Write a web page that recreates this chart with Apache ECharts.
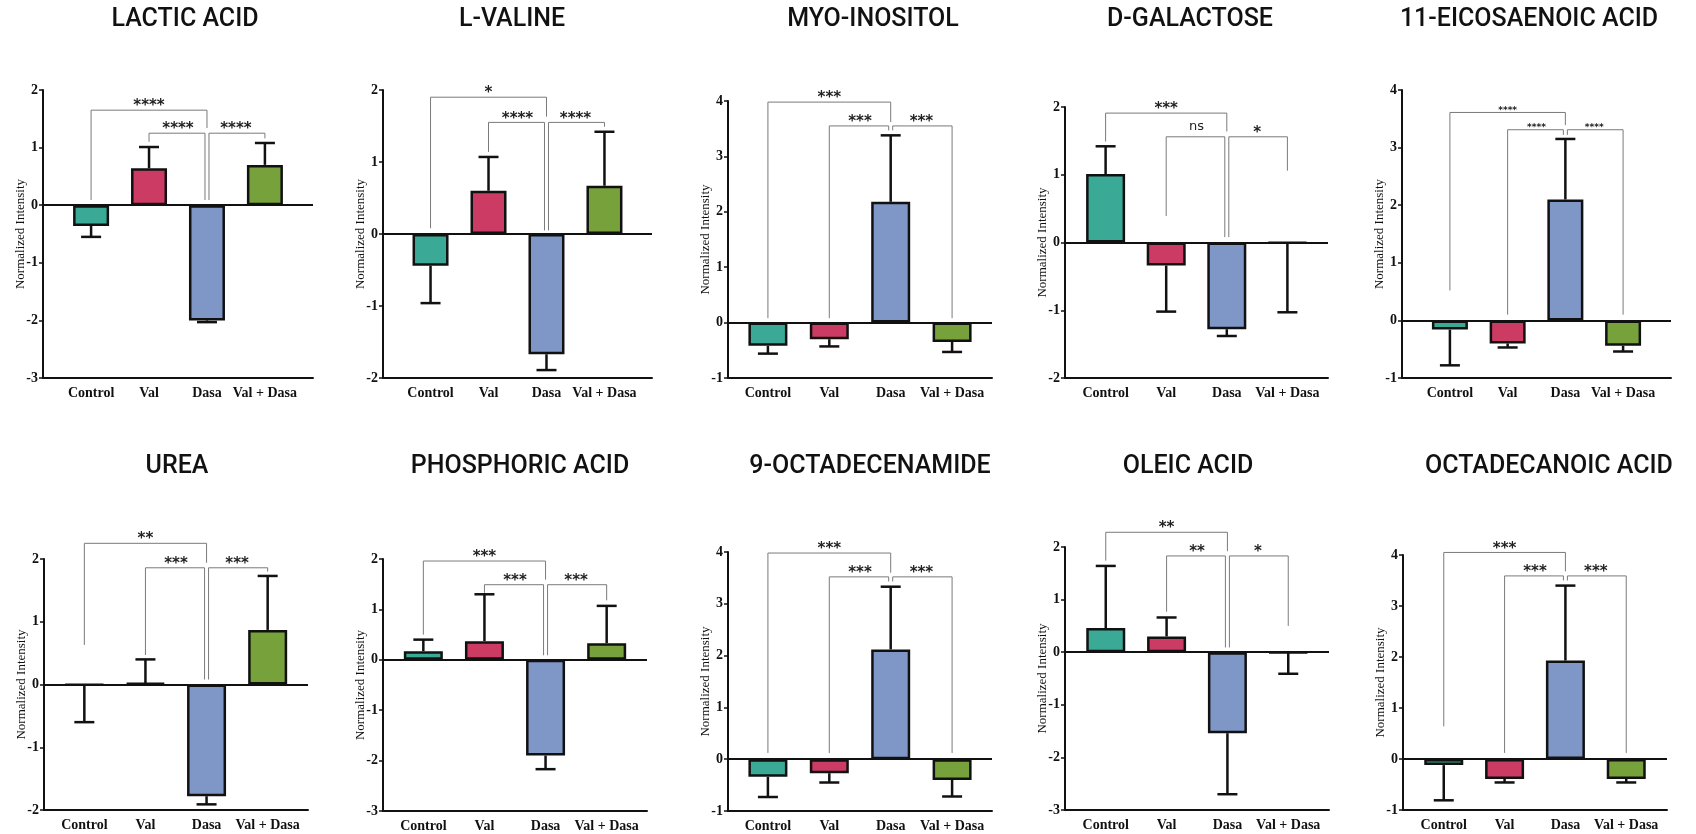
<!DOCTYPE html>
<html>
<head>
<meta charset="utf-8">
<script src="https://cdn.jsdelivr.net/npm/echarts@6/dist/echarts.min.js"></script>
<style>
  html, body { margin: 0; padding: 0; background: #fff; }
  #chart { width: 1696px; height: 834px; }
</style>
</head>
<body>
<div id="chart"></div>
<script>
const groups = ['Control', 'Val', 'Dasa', 'Val + Dasa'];
const groupColors = ['#3aa996', '#cb3b63', '#7f97c7', '#76a13b'];

// mean / error (SD) per group, and significance brackets:
// [from, to, bracket level, left leg end, right leg end, label]
const lacticAcid = [-0.36, 0.64, -2.00, 0.70];
const lacticAcidErr = [0.19, 0.37, 0.03, 0.38];
const lacticAcidSig = [[0, 2, 1.65, 0.09, 1.34, '****'], [1, 2, 1.25, 1.10, 0.09, '****'], [2, 3, 1.25, 0.09, 1.16, '****']];

const lValine = [-0.44, 0.60, -1.67, 0.67];
const lValineErr = [0.52, 0.47, 0.22, 0.75];
const lValineSig = [[0, 2, 1.90, 0.08, 1.63, '*'], [1, 2, 1.55, 1.14, 0.05, '****'], [2, 3, 1.55, 0.05, 1.49, '****']];

const myoInositol = [-0.42, -0.30, 2.18, -0.35];
const myoInositolErr = [0.14, 0.13, 1.20, 0.18];
const myoInositolSig = [[0, 2, 3.98, 0.08, 3.62, '***'], [1, 2, 3.55, 0.08, 3.47, '***'], [2, 3, 3.55, 3.47, 0.08, '***']];

const dGalactose = [1.01, -0.34, -1.28, -0.01];
const dGalactoseErr = [0.41, 0.68, 0.10, 1.02];
const dGalactoseSig = [[0, 2, 1.91, 1.49, 1.64, '***'], [1, 2, 1.56, 0.39, 0.08, 'ns'], [2, 3, 1.56, 0.08, 1.06, '*']];

const eicosaenoic = [-0.16, -0.40, 2.10, -0.44];
const eicosaenoicErr = [0.62, 0.07, 1.05, 0.10];
const eicosaenoicSig = [[0, 2, 3.61, 0.52, 3.39, '****'], [1, 2, 3.31, 0.10, 3.22, '****'], [2, 3, 3.31, 3.22, 0.10, '****']];

const urea = [-0.01, 0.02, -1.78, 0.87];
const ureaErr = [0.59, 0.38, 0.13, 0.86];
const ureaSig = [[0, 2, 2.25, 0.63, 1.94, '**'], [1, 2, 1.86, 0.47, 0.08, '***'], [2, 3, 1.86, 0.08, 1.80, '***']];

const phosphoric = [0.17, 0.37, -1.90, 0.33];
const phosphoricErr = [0.23, 0.93, 0.27, 0.74];
const phosphoricSig = [[0, 2, 1.96, 0.50, 1.59, '***'], [1, 2, 1.49, 1.33, 0.09, '***'], [2, 3, 1.49, 0.09, 1.18, '***']];

const octadecenamide = [-0.34, -0.27, 2.12, -0.40];
const octadecenamideErr = [0.39, 0.18, 1.21, 0.32];
const octadecenamideSig = [[0, 2, 3.98, 0.12, 3.60, '***'], [1, 2, 3.52, 0.12, 3.43, '***'], [2, 3, 3.52, 3.43, 0.12, '***']];

const oleic = [0.46, 0.30, -1.54, -0.01];
const oleicErr = [1.18, 0.36, 1.16, 0.40];
const oleicSig = [[0, 2, 2.28, 1.74, 1.92, '**'], [1, 2, 1.83, 0.77, 0.09, '**'], [2, 3, 1.83, 0.09, 0.50, '*']];

const octadecanoic = [-0.12, -0.39, 1.93, -0.39];
const octadecanoicErr = [0.69, 0.07, 1.47, 0.07];
const octadecanoicSig = [[0, 2, 4.05, 0.64, 3.68, '***'], [1, 2, 3.59, 0.12, 3.50, '***'], [2, 3, 3.59, 3.50, 0.12, '***']];

const panels = [
  { title: 'LACTIC ACID', mean: lacticAcid, err: lacticAcidErr, sig: lacticAcidSig, yMin: -3, yMax: 2, left: 43, top: 90, width: 270, height: 288, pad: 0.83, barW: 36, tx: 185, ty: 20, star: 15 },
  { title: 'L-VALINE', mean: lValine, err: lValineErr, sig: lValineSig, yMin: -2, yMax: 2, left: 383, top: 90, width: 269, height: 288, pad: 0.82, barW: 36, tx: 512, ty: 20, star: 15 },
  { title: 'MYO-INOSITOL', mean: myoInositol, err: myoInositolErr, sig: myoInositolSig, yMin: -1, yMax: 4, left: 728, top: 101, width: 264, height: 277, pad: 0.65, barW: 39, tx: 873, ty: 20, star: 15 },
  { title: 'D-GALACTOSE', mean: dGalactose, err: dGalactoseErr, sig: dGalactoseSig, yMin: -2, yMax: 2, left: 1065, top: 107, width: 263, height: 271, pad: 0.67, barW: 39, tx: 1190, ty: 20, star: 15 },
  { title: '11-EICOSAENOIC ACID', mean: eicosaenoic, err: eicosaenoicErr, sig: eicosaenoicSig, yMin: -1, yMax: 4, left: 1402, top: 90, width: 269, height: 288, pad: 0.83, barW: 36, tx: 1529, ty: 20, star: 9 },
  { title: 'UREA', mean: urea, err: ureaErr, sig: ureaSig, yMin: -2, yMax: 2, left: 44, top: 559, width: 264, height: 251, pad: 0.66, barW: 39, tx: 177, ty: 467, star: 15 },
  { title: 'PHOSPHORIC ACID', mean: phosphoric, err: phosphoricErr, sig: phosphoricSig, yMin: -3, yMax: 2, left: 383, top: 559, width: 264, height: 252, pad: 0.66, barW: 39, tx: 520, ty: 467, star: 15 },
  { title: '9-OCTADECENAMIDE', mean: octadecenamide, err: octadecenamideErr, sig: octadecenamideSig, yMin: -1, yMax: 4, left: 728, top: 552, width: 264, height: 259, pad: 0.65, barW: 39, tx: 870, ty: 467, star: 15 },
  { title: 'OLEIC ACID', mean: oleic, err: oleicErr, sig: oleicSig, yMin: -3, yMax: 2, left: 1065, top: 547, width: 264, height: 263, pad: 0.67, barW: 39, tx: 1188, ty: 467, star: 15 },
  { title: 'OCTADECANOIC ACID', mean: octadecanoic, err: octadecanoicErr, sig: octadecanoicSig, yMin: -1, yMax: 4, left: 1403, top: 555, width: 264, height: 255, pad: 0.67, barW: 39, tx: 1549, ty: 467, star: 15 }
];

const serif = '"Liberation Serif", "DejaVu Serif", serif';

function errorBarRenderer(params, api) {
  const x = api.value(0);
  const m = api.value(1);
  const e = api.value(2);
  const dir = m >= 0 ? 1 : -1;
  const p0 = api.coord([x, m]);
  const p1 = api.coord([x, m + dir * e]);
  const style = { stroke: '#111', lineWidth: 2.5 };
  return {
    type: 'group',
    children: [
      { type: 'line', shape: { x1: p0[0], y1: p0[1], x2: p1[0], y2: p1[1] }, style },
      { type: 'line', shape: { x1: p1[0] - 10, y1: p1[1], x2: p1[0] + 10, y2: p1[1] }, style }
    ]
  };
}

function bracketRenderer(p) {
  return function (params, api) {
    const from = api.value(0);
    const to = api.value(1);
    const lvl = api.value(2);
    const off1 = from === 2 ? 2 : 0;
    const off2 = (from === 1 && to === 2) ? -2 : 0;
    const a = api.coord([from, api.value(3)]);
    const t1 = api.coord([from, lvl]);
    const t2 = api.coord([to, lvl]);
    const c = api.coord([to, api.value(4)]);
    const label = p.sig[params.dataIndex][5];
    const isNs = label === 'ns';
    return {
      type: 'group',
      children: [
        {
          type: 'polyline',
          shape: { points: [[a[0] + off1, a[1]], [t1[0] + off1, t1[1]], [t2[0] + off2, t2[1]], [c[0] + off2, c[1]]] },
          style: { stroke: '#7a7a7a', lineWidth: 1, fill: null }
        },
        {
          type: 'text',
          x: (t1[0] + t2[0]) / 2,
          y: t1[1] - (isNs ? 10 : p.star * 0.25),
          style: {
            text: label,
            fill: '#222',
            font: isNs ? 'normal 13px "DejaVu Sans", sans-serif' : 'bold ' + p.star + 'px "DejaVu Sans", sans-serif',
            align: 'center', verticalAlign: 'middle',
            textAlign: 'center', textVerticalAlign: 'middle'
          }
        }
      ]
    };
  };
}

const chart = echarts.init(document.getElementById('chart'));

const series = [];
panels.forEach((p, i) => {
  series.push({
    type: 'bar',
    xAxisIndex: i,
    yAxisIndex: i,
    barWidth: p.barW,
    z: 2,
    data: p.mean.map((v, k) => ({
      value: [k, v],
      itemStyle: { color: groupColors[k], borderColor: '#111', borderWidth: 2.5 }
    })),
    markLine: {
      silent: true,
      symbol: ['none', 'none'],
      label: { show: false },
      lineStyle: { color: '#111', width: 2, type: 'solid' },
      data: [{ yAxis: 0 }],
      z: 3
    }
  });
  series.push({
    type: 'custom',
    xAxisIndex: i,
    yAxisIndex: i,
    z: 4,
    clip: false,
    renderItem: errorBarRenderer,
    data: p.mean.map((v, k) => [k, v, p.err[k]])
  });
  series.push({
    type: 'custom',
    xAxisIndex: i,
    yAxisIndex: i,
    z: 5,
    clip: false,
    renderItem: bracketRenderer(p),
    data: p.sig.map(b => b.slice(0, 5))
  });
});

const option = {
  animation: false,
  backgroundColor: '#fff',
  graphic: panels.map(p => ({
    type: 'text',
    x: p.tx,
    y: p.ty,
    style: {
      text: p.title,
      font: '500 25px Roboto, "Noto Sans", sans-serif',
      fill: '#111',
      textAlign: 'center',
      textVerticalAlign: 'middle'
    }
  })),
  grid: panels.map(p => ({ left: p.left, top: p.top, width: p.width, height: p.height })),
  xAxis: panels.map((p, i) => ({
    type: 'value',
    gridIndex: i,
    min: -p.pad,
    max: 3 + p.pad,
    axisLine: { onZero: false, lineStyle: { color: '#111', width: 2 } },
    axisTick: { show: false },
    splitLine: { show: false },
    axisLabel: {
      customValues: [0, 1, 2, 3],
      formatter: v => groups[Math.round(v)],
      color: '#111',
      fontFamily: serif,
      fontWeight: 'bold',
      fontSize: 14,
      margin: 8
    }
  })),
  yAxis: panels.map((p, i) => ({
    type: 'value',
    gridIndex: i,
    min: p.yMin,
    max: p.yMax,
    interval: 1,
    name: 'Normalized Intensity',
    nameLocation: 'middle',
    nameGap: 16,
    nameMoveOverlap: false,
    nameTextStyle: { color: '#111', fontFamily: serif, fontSize: 13 },
    axisLine: { show: true, onZero: false, lineStyle: { color: '#111', width: 2 } },
    axisTick: { show: true, length: 4, lineStyle: { color: '#111', width: 1.5 } },
    splitLine: { show: false },
    axisLabel: { color: '#111', fontFamily: serif, fontWeight: 'bold', fontSize: 14, margin: 5 }
  })),
  series
};

chart.setOption(option);
</script>
</body>
</html>
